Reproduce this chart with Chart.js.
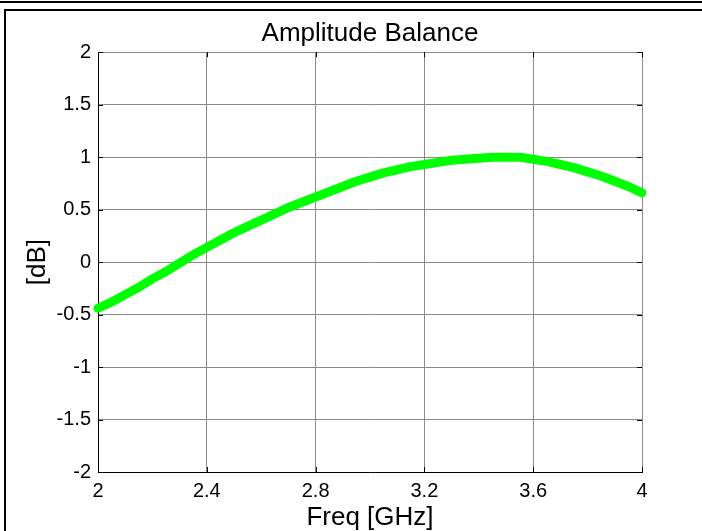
<!DOCTYPE html>
<html>
<head>
    <script src="https://cdn.jsdelivr.net/npm/chart.js"></script>
    <style>
        body { margin: 0; background: #fff; }
        #wrap { position: relative; width: 702px; height: 531px; }
    </style>
</head>
<body>
<div id="wrap">
    <canvas id="balance-chart" width="702" height="531"></canvas>
</div>

<script>
    // frequency points [GHz] and amplitude balance [dB]
    var freq = [2.00, 2.05, 2.10, 2.15, 2.20, 2.25, 2.30, 2.35, 2.40, 2.45,
                2.50, 2.55, 2.60, 2.65, 2.70, 2.75, 2.80, 2.85, 2.90, 2.95,
                3.00, 3.05, 3.10, 3.15, 3.20, 3.25, 3.30, 3.35, 3.40, 3.45,
                3.50, 3.55, 3.60, 3.65, 3.70, 3.75, 3.80, 3.85, 3.90, 3.95, 4.00];
    var balance = [-0.44, -0.38, -0.31, -0.24, -0.16, -0.09, -0.01, 0.07, 0.14, 0.21,
                   0.28, 0.34, 0.40, 0.46, 0.52, 0.57, 0.62, 0.67, 0.72, 0.77,
                   0.81, 0.85, 0.88, 0.91, 0.93, 0.95, 0.97, 0.98, 0.99, 1.00,
                   1.00, 1.00, 0.98, 0.96, 0.93, 0.90, 0.86, 0.82, 0.77, 0.72, 0.66];

    var xTicks = [2, 2.4, 2.8, 3.2, 3.6, 4];
    var yTicks = [-2, -1.5, -1, -0.5, 0, 0.5, 1, 1.5, 2];

    var points = freq.map(function (f, i) { return { x: f, y: balance[i] }; });

    // matlab-like labels: 2, 1.5, -0.5 (no trailing .0)
    function fmt(v) { return String(Math.round(v * 10) / 10); }

    // white page + figure frame lines
    var framePlugin = {
        id: 'frame',
        beforeDraw: function (chart) {
            var c = chart.ctx;
            c.save();
            c.fillStyle = '#fff';
            c.fillRect(0, 0, chart.width, chart.height);
            c.fillStyle = '#000';
            c.fillRect(0, 1, chart.width, 2);
            c.fillRect(4, 9, chart.width - 4, 2);
            c.fillRect(4, 9, 2, chart.height - 9);
            c.restore();
        }
    };

    // inward tick marks on all four sides
    var tickPlugin = {
        id: 'inTicks',
        afterDatasetsDraw: function (chart) {
            var c = chart.ctx, a = chart.chartArea;
            var sx = chart.scales.x, sy = chart.scales.y;
            c.save();
            c.strokeStyle = '#000';
            c.lineWidth = 1;
            c.beginPath();
            sx.ticks.forEach(function (t) {
                var px = Math.round(sx.getPixelForValue(t.value)) + 0.5;
                c.moveTo(px, a.bottom); c.lineTo(px, a.bottom - 5);
                c.moveTo(px, a.top); c.lineTo(px, a.top + 5);
            });
            sy.ticks.forEach(function (t) {
                var py = Math.round(sy.getPixelForValue(t.value)) + 0.5;
                c.moveTo(a.left, py); c.lineTo(a.left + 5, py);
                c.moveTo(a.right, py); c.lineTo(a.right - 5, py);
            });
            c.stroke();
            c.restore();
        }
    };

    var font = "'Liberation Sans', Arial, sans-serif";

    var ctx = document.getElementById('balance-chart').getContext('2d');
    var balanceChart = new Chart(ctx, {
        type: 'line',
        data: {
            datasets: [{
                data: points,
                borderColor: '#00ff00',
                borderWidth: 9,
                borderCapStyle: 'round',
                borderJoinStyle: 'round',
                pointRadius: 0,
                fill: false,
                clip: false
            }]
        },
        options: {
            responsive: false,
            animation: false,
            layout: { padding: { left: 0, right: 60, top: 0, bottom: 0 } },
            plugins: {
                legend: { display: false },
                tooltip: { enabled: false },
                title: {
                    display: true,
                    text: 'Amplitude Balance',
                    color: '#000',
                    fullSize: false,
                    font: { family: font, size: 26, weight: 'normal' },
                    padding: { top: 18, bottom: 3 }
                }
            },
            scales: {
                x: {
                    type: 'linear',
                    min: 2,
                    max: 4,
                    afterBuildTicks: function (s) {
                        s.ticks = xTicks.map(function (v) { return { value: v }; });
                    },
                    afterFit: function (s) { s.height = 59; },
                    grid: { color: '#8a8a8a', drawTicks: false },
                    border: { color: '#000' },
                    ticks: {
                        color: '#000',
                        padding: 7,
                        font: { family: font, size: 20 },
                        maxRotation: 0,
                        callback: fmt
                    },
                    title: {
                        display: true,
                        text: 'Freq [GHz]',
                        color: '#000',
                        font: { family: font, size: 26, lineHeight: 1 },
                        padding: { top: 0, bottom: 0 }
                    }
                },
                y: {
                    min: -2,
                    max: 2,
                    afterBuildTicks: function (s) {
                        s.ticks = yTicks.map(function (v) { return { value: v }; });
                    },
                    afterFit: function (s) { s.width = 98; },
                    grid: { color: '#8a8a8a', drawTicks: false },
                    border: { color: '#000' },
                    ticks: {
                        color: '#000',
                        padding: 7,
                        font: { family: font, size: 20 },
                        callback: fmt
                    },
                    title: {
                        display: true,
                        text: '[dB]',
                        color: '#000',
                        font: { family: font, size: 26 },
                        padding: { top: 22, bottom: 0 }
                    }
                }
            }
        },
        plugins: [framePlugin, tickPlugin]
    });
</script>
</body>
</html>
